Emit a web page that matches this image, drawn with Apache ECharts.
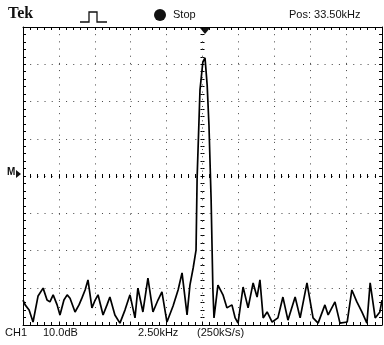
<!DOCTYPE html>
<html>
<head>
<meta charset="utf-8">
<script src="https://cdn.jsdelivr.net/npm/echarts@6/dist/echarts.min.js"></script>
<style>
  html, body { margin: 0; padding: 0; background: #fff; }
  #scope { width: 384px; height: 345px; }
</style>
</head>
<body>
<div id="scope"></div>
<script>
// FFT trace, x in horizontal divisions (2.50kHz/div), y in vertical divisions (10.0dB/div)
let freqDiv = [0.00, 0.06, 0.17, 0.28, 0.42, 0.56, 0.67, 0.75, 0.84, 0.95, 1.03, 1.14, 1.23, 1.31, 1.45, 1.56, 1.64, 1.73, 1.81, 1.92,
    2.01, 2.09, 2.23, 2.34, 2.42, 2.56, 2.70, 2.84, 2.98, 3.12, 3.20, 3.34, 3.48, 3.62, 3.76, 3.87, 4.01, 4.18, 4.32, 4.43,
    4.57, 4.65, 4.74, 4.82, 4.85, 4.93, 5.01, 5.07, 5.13, 5.18, 5.24, 5.29, 5.32, 5.43, 5.57, 5.68, 5.82, 5.91, 5.99, 6.13,
    6.27, 6.41, 6.52, 6.60, 6.69, 6.80, 6.94, 7.10, 7.24, 7.38, 7.58, 7.72, 7.91, 8.08, 8.22, 8.41, 8.50, 8.69, 8.83, 9.03,
    9.16, 9.30, 9.44, 9.58, 9.67, 9.81, 9.94, 10.00]
let levelDiv = [0.67, 0.54, 0.40, 0.08, 0.78, 0.99, 0.67, 0.62, 0.81, 0.54, 0.27, 0.67, 0.81, 0.72, 0.35, 0.54, 0.72, 0.94, 1.21, 0.46,
    0.67, 0.81, 0.27, 0.54, 0.75, 0.27, 0.05, 0.40, 0.81, 0.19, 0.99, 0.35, 1.26, 0.35, 0.67, 0.89, 0.08, 0.51, 0.94, 1.40,
    0.27, 1.07, 1.53, 2.01, 3.95, 6.31, 7.06, 7.17, 6.44, 5.37, 3.36, 0.94, 0.19, 1.07, 0.81, 0.46, 0.54, 0.19, 0.05, 1.02,
    0.46, 1.13, 0.75, 1.21, 0.19, 0.35, 0.08, 0.19, 0.75, 0.13, 0.75, 0.19, 1.13, 0.19, 0.05, 0.54, 0.27, 0.62, 0.05, 0.08,
    0.94, 0.62, 0.35, 0.05, 1.13, 0.19, 0.35, 0.67]

let xDivs = 10
let yDivs = 8
let minorPerDiv = 5

let labelFont = 'Liberation Sans'
let ink = '#111'

let myChart = echarts.init(document.getElementById('scope'), null, { renderer: 'canvas' })

let seriesData = []
for (let i = 0; i < freqDiv.length; i++) {
    seriesData.push([freqDiv[i], levelDiv[i]])
}

let dotted = { show: true, lineStyle: { color: '#444', width: 1, type: [1, 6.18] } }
let borderLine = { show: true, onZero: false, lineStyle: { color: '#000', width: 1 } }
let borderTick = { show: true, inside: true, length: 3, lineStyle: { color: '#000' } }
let borderMinor = { show: true, splitNumber: minorPerDiv, length: 3, lineStyle: { color: '#000' } }

function frameAxis(extra) {
    return Object.assign({
        type: 'value', gridIndex: 0, min: 0, interval: 1,
        axisLine: borderLine, axisTick: borderTick, minorTick: borderMinor,
        axisLabel: { show: false }, splitLine: { show: false }
    }, extra)
}

// center cross with small tick marks on both sides
function centerAxis(grid, inside, extra) {
    return Object.assign({
        type: 'value', gridIndex: grid, interval: 1,
        axisLine: { show: false, onZero: true },
        axisTick: { show: true, inside: inside, length: 2, lineStyle: { color: '#000' } },
        minorTick: { show: true, splitNumber: minorPerDiv, length: 2, lineStyle: { color: '#000' } },
        axisLabel: { show: false }, splitLine: { show: false }
    }, extra)
}

let gridBox = { left: 23, top: 27, width: 359, height: 298 }

let option = {
    animation: false,
    backgroundColor: '#fff',
    grid: [
        Object.assign({}, gridBox),
        Object.assign({}, gridBox),
        Object.assign({}, gridBox)
    ],
    xAxis: [
        frameAxis({ max: xDivs, position: 'bottom', splitLine: dotted }),
        frameAxis({ max: xDivs, position: 'top' }),
        centerAxis(1, true, { min: -xDivs / 2, max: xDivs / 2 }),
        centerAxis(2, false, { min: -xDivs / 2, max: xDivs / 2 })
    ],
    yAxis: [
        frameAxis({ max: yDivs, position: 'left', splitLine: dotted }),
        frameAxis({ max: yDivs, position: 'right' }),
        centerAxis(1, true, { min: -yDivs / 2, max: yDivs / 2 }),
        centerAxis(2, false, { min: -yDivs / 2, max: yDivs / 2 })
    ],
    series: [{
        type: 'line',
        xAxisIndex: 0,
        yAxisIndex: 0,
        data: seriesData,
        showSymbol: false,
        clip: true,
        lineStyle: { color: '#000', width: 1.7 },
        z: 5
    }],
    graphic: [
        { type: 'text', left: 8, top: 6, style: { text: 'Tek', font: 'bold 16px "Liberation Serif"', fill: ink } },
        { type: 'polyline', shape: { points: [[80, 22], [89, 22], [89, 12], [97, 12], [97, 22], [107, 22]] },
          style: { stroke: ink, lineWidth: 1.3, fill: null } },
        { type: 'circle', shape: { cx: 160, cy: 15, r: 6 }, style: { fill: ink } },
        { type: 'text', left: 173, top: 9, style: { text: 'Stop', font: '11px "' + labelFont + '"', fill: ink } },
        { type: 'text', left: 289, top: 9, style: { text: 'Pos: 33.50kHz', font: '11px "' + labelFont + '"', fill: ink } },
        { type: 'polygon', shape: { points: [[200, 28], [210, 28], [205, 34]] }, style: { fill: ink } },
        { type: 'text', left: 7, top: 167, style: { text: 'M', font: 'bold 10px "' + labelFont + '"', fill: ink } },
        { type: 'polygon', shape: { points: [[16, 170], [16, 178], [21, 174]] }, style: { fill: ink } },
        { type: 'text', left: 5, top: 327, style: { text: 'CH1', font: '11px "' + labelFont + '"', fill: ink } },
        { type: 'text', left: 43, top: 327, style: { text: '10.0dB', font: '11px "' + labelFont + '"', fill: ink } },
        { type: 'text', left: 138, top: 327, style: { text: '2.50kHz', font: '11px "' + labelFont + '"', fill: ink } },
        { type: 'text', left: 197, top: 327, style: { text: '(250kS/s)', font: '11px "' + labelFont + '"', fill: ink } }
    ]
}

myChart.setOption(option)
window.addEventListener('resize', function () {
    myChart.resize()
})
</script>
</body>
</html>
